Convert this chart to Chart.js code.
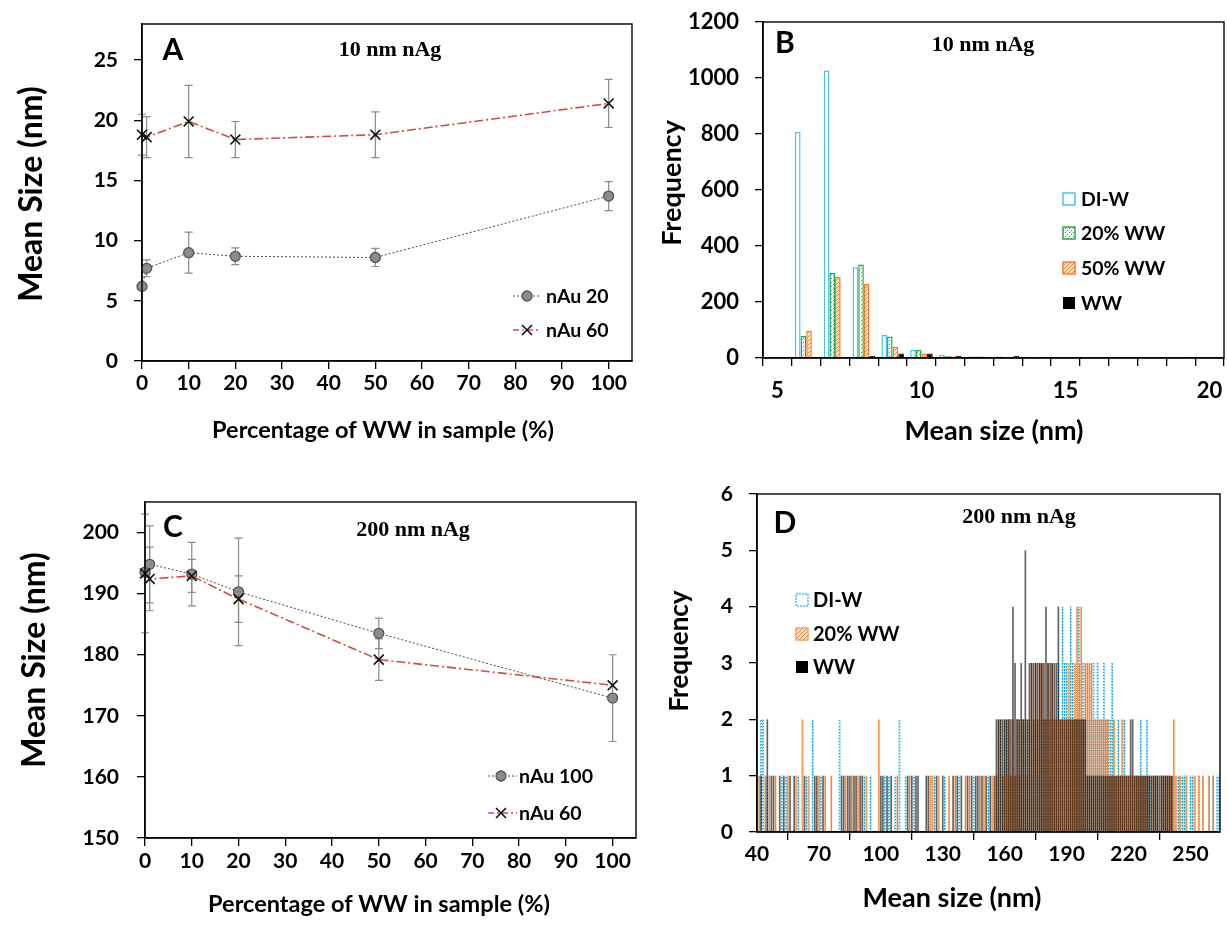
<!DOCTYPE html>
<html>
<head>
<meta charset="utf-8">
<script src="https://cdn.jsdelivr.net/npm/chart.js@4.4.1/dist/chart.umd.min.js"></script>
<style>
  html, body { margin: 0; padding: 0; background: #fff; width: 1227px; height: 926px; overflow: hidden; }
  canvas { position: absolute; }
</style>
</head>
<body>
<canvas id="cA" width="645" height="462" style="left:0px;top:0px"></canvas>
<canvas id="cB" width="582" height="462" style="left:645px;top:0px"></canvas>
<canvas id="cC" width="645" height="464" style="left:0px;top:462px"></canvas>
<canvas id="cD" width="582" height="464" style="left:645px;top:462px"></canvas>
<script>
// ---------- data: mean size vs. wastewater fraction ----------
const pctWW = [0, 1, 10, 20, 50, 100];
const pctTicks = [0, 10, 20, 30, 40, 50, 60, 70, 80, 90, 100];

// 10 nm nAg
const nAu20Size = [6.2, 7.7, 9.0, 8.7, 8.6, 13.7];
const nAu20Err  = [0, 0.7, 1.7, 0.7, 0.75, 1.2];
const nAu60Size10 = [18.8, 18.6, 19.9, 18.4, 18.8, 21.4];
const nAu60Err10  = [1.7, 1.7, 3.0, 1.5, 1.9, 2.0];
const sizeTicks10 = [0, 5, 10, 15, 20, 25];

// 200 nm nAg
const nAu100Size = [193.5, 194.8, 193.2, 190.3, 183.5, 172.9];
const nAu100Err  = [0, 6.3, 5.2, 8.8, 2.5, 7.1];
const nAu60Size200 = [193.3, 192.4, 192.9, 189.1, 179.2, 175.0];
const nAu60Err200  = [9.7, 5.2, 2.7, 3.8, 3.4, 0];
const sizeTicks200 = [150, 160, 170, 180, 190, 200];

// ---------- data: size distributions, 10 nm nAg (1 nm bins) ----------
const sizeBins10 = [5, 6, 7, 8, 9, 10, 11, 12, 13, 14, 15, 16, 17, 18, 19, 20];
const binLabels10 = [5, 10, 15, 20];
const freqDIW10  = [0, 808, 1027, 324, 82, 29, 12, 5, 6, 2, 1, 1, 0, 1, 1, 1];
const freq20WW10 = [0, 79, 304, 334, 77, 29, 7, 5, 1, 2, 1, 1, 0, 1, 1, 1];
const freq50WW10 = [0, 97, 290, 264, 40, 16, 6, 5, 1, 1, 1, 1, 0, 1, 1, 1];
const freqWW10   = [0, 0, 2, 8, 16, 16, 8, 2, 8, 1, 1, 1, 0, 1, 1, 1];
const freqTicks10 = [0, 200, 400, 600, 800, 1000, 1200];

// ---------- data: size distributions, 200 nm nAg (1 nm bins from 40 nm) ----------
const binStart200 = 40;
const binLabels200 = [40, 70, 100, 130, 160, 190, 220, 250];
const freqTicks200 = [0, 1, 2, 3, 4, 5, 6];
const freqDIW200 = [
  0,0,2,2,0,1,0,0,0,0,  0,0,1,0,1,0,0,0,0,0,  1,0,0,0,1,0,0,2,0,0,  0,1,0,0,0,0,0,0,0,0,
  2,0,0,0,0,0,1,0,0,0,  0,0,1,0,0,1,0,0,0,0,  0,0,1,0,1,0,0,1,0,2,  0,0,1,0,0,0,1,0,0,0,
  0,0,0,0,0,0,1,0,0,0,  0,1,0,0,0,0,0,0,1,0,  0,0,0,0,0,1,0,0,1,0,  0,0,1,0,0,0,1,1,2,1,
  1,2,1,1,2,1,1,2,1,2,  1,2,2,1,2,2,1,2,2,2,  2,2,1,2,2,2,3,2,4,3,  3,2,4,3,2,2,4,2,3,2,
  2,2,2,3,2,3,2,2,3,2,  2,2,3,2,1,2,1,2,2,1,  1,1,1,1,1,1,2,1,1,2,  1,1,0,1,1,0,1,1,1,0,
  1,0,1,0,1,1,1,1,1,0,  1,1,1,0,1,0,1,0,0,1,  0,1,0,1,1
];
const freq20WW200 = [
  0,1,0,0,1,0,1,0,0,1,  0,0,0,0,0,1,0,0,0,1,  0,0,2,0,0,1,0,0,0,0,  1,0,0,1,0,0,1,0,0,0,
  0,0,0,1,0,0,1,0,0,1,  0,0,0,1,0,0,0,0,0,2,  0,0,0,0,0,0,0,0,1,0,  0,0,0,0,1,0,0,0,0,0,
  0,0,0,0,1,1,0,0,1,0,  0,0,0,1,0,0,1,0,0,0,  0,1,0,1,0,0,0,0,1,0,  1,0,0,0,1,0,1,2,0,1,
  2,1,2,1,2,1,2,1,2,2,  2,1,2,3,2,3,2,3,3,2,  2,3,2,3,2,2,2,2,2,2,  2,3,2,2,3,4,3,4,2,3,
  3,3,3,2,2,2,2,2,2,2,  2,1,1,2,1,1,1,2,1,1,  1,1,1,1,1,1,1,1,1,1,  1,0,1,1,1,0,1,1,1,1,
  1,1,2,1,0,1,0,0,1,0,  0,0,1,0,1,0,1,0,0,1,  0,1,0,0,0
];
const freqWW200 = [
  0,0,1,0,0,2,0,1,1,0,  0,1,0,1,0,0,1,0,1,0,  0,0,0,1,0,0,0,0,1,1,  0,0,1,0,0,0,0,0,0,0,
  0,1,1,0,1,1,0,1,1,0,  1,1,0,0,0,0,0,0,0,0,  1,1,0,1,0,1,0,0,0,0,  0,0,0,1,0,1,0,1,1,0,
  0,0,1,1,0,0,0,1,0,0,  1,0,0,0,0,1,0,1,0,1,  0,0,1,0,1,0,1,1,0,1,  0,1,0,1,0,1,2,2,2,2,
  2,2,2,2,4,3,2,2,3,2,  5,2,3,3,3,3,3,3,3,3,  4,3,3,3,3,3,4,2,2,2,  2,2,2,2,2,2,2,2,2,2,
  1,1,1,1,1,1,1,1,1,1,  1,1,1,1,1,1,1,1,1,1,  1,2,2,1,1,1,1,1,1,1,  1,1,1,1,1,1,1,1,1,1,
  1,1,0,0,0,0,0,0,0,0,  0,0,0,0,0,0,0,0,0,0,  0,0,0,0,0
];

// ---------- styling helpers ----------
const SANS = 'Lato, "Open Sans", sans-serif';
const SERIF = '"Liberation Serif", "DejaVu Serif", serif';
const BLUE = '#4cc3ef', GREEN = '#1fae4b', ORANGE = '#ee7d31';

function pattern(w, h, paint) {
  const c = document.createElement('canvas');
  c.width = w; c.height = h;
  const g = c.getContext('2d');
  paint(g);
  return g.createPattern(c, 'repeat');
}
const greenDots = pattern(4, 4, g => {
  g.fillStyle = '#ffffff'; g.fillRect(0, 0, 4, 4);
  g.fillStyle = GREEN; g.fillRect(0, 0, 1, 1); g.fillRect(2, 2, 1, 1);
  g.fillStyle = '#a8e2b8'; g.fillRect(1, 3, 1, 1);
});
const orangeHatch = pattern(4, 4, g => {
  g.fillStyle = '#fde6d4'; g.fillRect(0, 0, 4, 4);
  g.fillStyle = ORANGE;
  for (let i = 0; i < 4; i++) g.fillRect(i, 3 - i, 1, 1);
});
const blueDots = pattern(2, 3, g => {
  g.fillStyle = '#bfe9fa'; g.fillRect(0, 0, 2, 3);
  g.fillStyle = '#1aa9e6'; g.fillRect(0, 0, 2, 1); g.fillRect(1, 1, 1, 1);
});
const orangeThin = pattern(2, 2, g => {
  g.fillStyle = 'rgba(238,125,49,0.95)'; g.fillRect(0, 0, 2, 2);
  g.fillStyle = 'rgba(250,190,140,0.95)'; g.fillRect(1, 1, 1, 1);
});

const tickFont = size => ({ family: SANS, weight: '700', size: size, lineHeight: 1 });
const plain = v => String(v);
// fixed axis band; tick labels never push the plot edges inward
const fixHeight = h => s => { s.height = h; s.paddingLeft = 0; s.paddingRight = 0; };

function valueAxis(min, max, ticks, axisWidth, pad, fontSize) {
  return {
    type: 'linear', min: min, max: max,
    afterBuildTicks: s => { s.ticks = ticks.map(v => ({ value: v })); },
    afterFit: s => { s.width = axisWidth; s.paddingTop = 0; s.paddingBottom = 0; },
    grid: { drawOnChartArea: false, drawTicks: true, tickLength: 8, color: '#000', lineWidth: 1.3 },
    border: { display: true, color: '#000', width: 1.5 },
    ticks: { color: '#000', font: tickFont(fontSize), padding: pad, callback: plain }
  };
}
function linearBottomAxis(min, max, ticks, axisHeight, pad, fontSize) {
  return {
    type: 'linear', min: min, max: max, offset: false,
    afterBuildTicks: s => { s.ticks = ticks.map(v => ({ value: v })); },
    afterFit: fixHeight(axisHeight),
    grid: { drawOnChartArea: false, drawTicks: true, tickLength: 8, color: '#000', lineWidth: 1.3 },
    border: { display: true, color: '#000', width: 1.5 },
    ticks: { color: '#000', font: tickFont(fontSize), padding: pad, maxRotation: 0, callback: plain }
  };
}

// ---------- plugin: frame, error bars, labels and legends ----------
const panelDecor = {
  id: 'panelDecor',
  beforeDatasetsDraw(chart) {
    const { ctx, scales: { x, y } } = chart;
    chart.data.datasets.forEach(ds => {
      if (!ds.errorBars) return;
      ctx.save();
      ctx.strokeStyle = '#8a8a8a';
      ctx.lineWidth = 1.2;
      ds.data.forEach((p, i) => {
        const e = ds.errorBars[i];
        if (!e) return;
        const px = x.getPixelForValue(p.x);
        const yt = y.getPixelForValue(p.y + e), yb = y.getPixelForValue(p.y - e);
        ctx.beginPath();
        ctx.moveTo(px, yt); ctx.lineTo(px, yb);
        ctx.moveTo(px - 4, yt); ctx.lineTo(px + 4, yt);
        ctx.moveTo(px - 4, yb); ctx.lineTo(px + 4, yb);
        ctx.stroke();
      });
      ctx.restore();
    });
  },
  afterDraw(chart, args, opts) {
    const { ctx, chartArea: a } = chart;
    const [ox, oy] = opts.origin;
    ctx.save();
    // plot frame
    ctx.strokeStyle = '#000';
    ctx.lineWidth = 1.4;
    ctx.strokeRect(a.left, a.top, a.right - a.left, a.bottom - a.top);
    // texts
    (opts.texts || []).forEach(t => {
      ctx.save();
      ctx.fillStyle = '#000';
      ctx.font = t.font;
      ctx.textAlign = t.align || 'center';
      ctx.textBaseline = 'middle';
      ctx.translate(t.x - ox, t.y - oy);
      if (t.rotate) ctx.rotate(-Math.PI / 2);
      ctx.fillText(t.text, 0, 0);
      ctx.restore();
    });
    // legend
    const lg = opts.legend;
    if (lg) {
      lg.items.forEach((it, i) => {
        const cy = lg.rows[i] - oy;
        const mx = lg.marker - ox;
        if (it.kind === 'line') {
          ctx.save();
          ctx.strokeStyle = it.lineColor;
          ctx.lineWidth = it.lineWidth;
          ctx.setLineDash(it.dash);
          ctx.beginPath();
          ctx.moveTo(lg.lineFrom - ox, cy); ctx.lineTo(lg.lineTo - ox, cy);
          ctx.stroke();
          ctx.setLineDash([]);
          if (it.point === 'circle') {
            ctx.fillStyle = '#8c8c8c'; ctx.strokeStyle = '#555'; ctx.lineWidth = 1.3;
            ctx.beginPath(); ctx.arc(mx, cy, 5, 0, Math.PI * 2); ctx.fill(); ctx.stroke();
          } else {
            ctx.strokeStyle = '#111'; ctx.lineWidth = 1.6;
            ctx.beginPath();
            ctx.moveTo(mx - 5, cy - 5); ctx.lineTo(mx + 5, cy + 5);
            ctx.moveTo(mx + 5, cy - 5); ctx.lineTo(mx - 5, cy + 5);
            ctx.stroke();
          }
          ctx.restore();
        } else {
          const s = lg.box;
          ctx.save();
          ctx.fillStyle = it.fill;
          ctx.fillRect(mx - s / 2, cy - s / 2, s, s);
          if (it.stroke) {
            ctx.strokeStyle = it.stroke; ctx.lineWidth = 1.5;
            if (it.dash) ctx.setLineDash(it.dash);
            ctx.strokeRect(mx - s / 2, cy - s / 2, s, s);
          }
          ctx.restore();
        }
        ctx.fillStyle = '#000';
        ctx.font = lg.font;
        ctx.textAlign = 'left';
        ctx.textBaseline = 'middle';
        ctx.fillText(it.label, lg.textX - ox, cy + 1);
      });
    }
    ctx.restore();
  }
};
Chart.register(panelDecor);

const pts = (xs, ys) => xs.map((v, i) => ({ x: v, y: ys[i] }));
const grayLine = { borderColor: '#4a4a4a', borderWidth: 1, borderDash: [2, 2] };
const redLine = { borderColor: '#c9504a', borderWidth: 1.6, borderDash: [9, 3, 2, 3] };
const circleMarks = { pointStyle: 'circle', pointRadius: 5, pointHoverRadius: 5, pointBackgroundColor: '#8c8c8c', pointBorderColor: '#555', pointBorderWidth: 1.3 };
const crossMarks = { pointStyle: 'crossRot', pointRadius: 7, pointHoverRadius: 7, pointBorderColor: '#111', pointBackgroundColor: '#111', pointBorderWidth: 1.6 };
const base = { responsive: false, animation: false, events: [] };

// ---------- A: 10 nm nAg, mean size ----------
new Chart(document.getElementById('cA'), {
  type: 'line',
  data: {
    datasets: [
      Object.assign({ label: 'nAu 60', data: pts(pctWW, nAu60Size10), errorBars: nAu60Err10, clip: false, tension: 0 }, redLine, crossMarks),
      Object.assign({ label: 'nAu 20', data: pts(pctWW, nAu20Size), errorBars: nAu20Err, clip: false, tension: 0 }, grayLine, circleMarks)
    ]
  },
  options: Object.assign({}, base, {
    layout: { padding: { top: 24, right: 13, left: 0, bottom: 0 } },
    scales: {
      x: linearBottomAxis(0, 105, pctTicks, 101, 4, 21),
      y: valueAxis(0, 28, sizeTicks10, 142, 16, 21)
    },
    plugins: {
      legend: { display: false }, tooltip: { enabled: false },
      panelDecor: {
        origin: [0, 0],
        texts: [
          { text: 'A', x: 173, y: 50, font: '700 30px ' + SANS },
          { text: '10 nm nAg', x: 390, y: 50, font: '700 22px ' + SERIF },
          { text: 'Mean Size (nm)', x: 32, y: 194, font: '700 32px ' + SANS, rotate: true },
          { text: 'Percentage of WW in sample (%)', x: 383, y: 430, font: '700 23.5px ' + SANS }
        ],
        legend: {
          rows: [296, 330], marker: 527, lineFrom: 513, lineTo: 541, textX: 546, font: '700 19.5px ' + SANS,
          items: [
            { label: 'nAu 20', kind: 'line', point: 'circle', lineColor: '#4a4a4a', lineWidth: 1, dash: [2, 2] },
            { label: 'nAu 60', kind: 'line', point: 'cross', lineColor: '#c9504a', lineWidth: 1.6, dash: [6, 3, 2, 3] }
          ]
        }
      }
    }
  })
});

// ---------- B: 10 nm nAg, size distribution ----------
new Chart(document.getElementById('cB'), {
  type: 'bar',
  data: {
    labels: sizeBins10,
    datasets: [
      { label: 'DI-W', data: freqDIW10, backgroundColor: '#ffffff', borderColor: BLUE, borderWidth: 1.5 },
      { label: '20% WW', data: freq20WW10, backgroundColor: greenDots, borderColor: GREEN, borderWidth: 1.5 },
      { label: '50% WW', data: freq50WW10, backgroundColor: orangeHatch, borderColor: ORANGE, borderWidth: 1.5 },
      { label: 'WW', data: freqWW10, backgroundColor: '#000000', borderColor: '#000000', borderWidth: 1 }
    ]
  },
  options: Object.assign({}, base, {
    layout: { padding: { top: 22, right: 3, left: 0, bottom: 0 } },
    datasets: { bar: { categoryPercentage: 0.78, barPercentage: 1.0 } },
    scales: {
      x: {
        type: 'category', offset: true,
        afterFit: fixHeight(104),
        grid: { offset: true, drawOnChartArea: false, drawTicks: true, tickLength: 8, color: '#000', lineWidth: 1.3 },
        border: { display: true, color: '#000', width: 1.5 },
        ticks: {
          color: '#000', font: tickFont(22), padding: 14, autoSkip: false, maxRotation: 0,
          callback: (v, i) => (binLabels10.includes(sizeBins10[i]) ? String(sizeBins10[i]) : '')
        }
      },
      y: valueAxis(0, 1200, freqTicks10, 118, 16, 22)
    },
    plugins: {
      legend: { display: false }, tooltip: { enabled: false },
      panelDecor: {
        origin: [645, 0],
        texts: [
          { text: 'B', x: 785, y: 43, font: '700 30px ' + SANS },
          { text: '10 nm nAg', x: 983, y: 45, font: '700 22px ' + SERIF },
          { text: 'Frequency', x: 672, y: 183, font: '700 27px ' + SANS, rotate: true },
          { text: 'Mean size (nm)', x: 994, y: 431, font: '700 27px ' + SANS }
        ],
        legend: {
          rows: [199, 233, 268, 303], marker: 1069, box: 12, textX: 1081, font: '700 19.5px ' + SANS,
          items: [
            { label: 'DI-W', kind: 'box', fill: '#ffffff', stroke: BLUE },
            { label: '20% WW', kind: 'box', fill: greenDots, stroke: GREEN },
            { label: '50% WW', kind: 'box', fill: orangeHatch, stroke: ORANGE },
            { label: 'WW', kind: 'box', fill: '#000000' }
          ]
        }
      }
    }
  })
});

// ---------- C: 200 nm nAg, mean size ----------
new Chart(document.getElementById('cC'), {
  type: 'line',
  data: {
    datasets: [
      Object.assign({ label: 'nAu 60', data: pts(pctWW, nAu60Size200), errorBars: nAu60Err200, clip: false, tension: 0 }, redLine, crossMarks),
      Object.assign({ label: 'nAu 100', data: pts(pctWW, nAu100Size), errorBars: nAu100Err, clip: false, tension: 0 }, grayLine, circleMarks)
    ]
  },
  options: Object.assign({}, base, {
    layout: { padding: { top: 40, right: 9, left: 0, bottom: 0 } },
    scales: {
      x: linearBottomAxis(0, 105, pctTicks, 88, 5, 21),
      y: valueAxis(150, 205, sizeTicks200, 145, 18, 21)
    },
    plugins: {
      legend: { display: false }, tooltip: { enabled: false },
      panelDecor: {
        origin: [0, 462],
        texts: [
          { text: 'C', x: 173, y: 527, font: '700 30px ' + SANS },
          { text: '200 nm nAg', x: 413, y: 530, font: '700 22px ' + SERIF },
          { text: 'Mean Size (nm)', x: 35, y: 660, font: '700 32px ' + SANS, rotate: true },
          { text: 'Percentage of WW in sample (%)', x: 379, y: 904, font: '700 23.5px ' + SANS }
        ],
        legend: {
          rows: [776, 813], marker: 501, lineFrom: 488, lineTo: 517, textX: 519, font: '700 19.5px ' + SANS,
          items: [
            { label: 'nAu 100', kind: 'line', point: 'circle', lineColor: '#4a4a4a', lineWidth: 1, dash: [2, 2] },
            { label: 'nAu 60', kind: 'line', point: 'cross', lineColor: '#c9504a', lineWidth: 1.6, dash: [6, 3, 2, 3] }
          ]
        }
      }
    }
  })
});

// ---------- D: 200 nm nAg, size distribution ----------
const binPts = counts => counts.map((c, i) => ({ x: binStart200 + i, y: c }));
new Chart(document.getElementById('cD'), {
  type: 'bar',
  data: {
    datasets: [
      { label: 'WW', data: binPts(freqWW200), backgroundColor: 'rgba(0,0,0,0.62)', borderWidth: 0, order: 0 },
      { label: '20% WW', data: binPts(freq20WW200), backgroundColor: orangeThin, borderWidth: 0, order: 1 },
      { label: 'DI-W', data: binPts(freqDIW200), backgroundColor: blueDots, borderWidth: 0, order: 2 }
    ]
  },
  options: Object.assign({}, base, {
    layout: { padding: { top: 32, right: 7, left: 0, bottom: 0 } },
    datasets: { bar: { grouped: false, categoryPercentage: 1.0, barPercentage: 0.8 } },
    scales: {
      x: linearBottomAxis(40, 264.3, binLabels200, 94, 4, 21),
      y: valueAxis(0, 6, freqTicks200, 112, 16, 21)
    },
    plugins: {
      legend: { display: false }, tooltip: { enabled: false },
      panelDecor: {
        origin: [645, 462],
        texts: [
          { text: 'D', x: 785, y: 523, font: '700 30px ' + SANS },
          { text: '200 nm nAg', x: 1019, y: 517, font: '700 22px ' + SERIF },
          { text: 'Frequency', x: 680, y: 651, font: '700 26px ' + SANS, rotate: true },
          { text: 'Mean size (nm)', x: 952, y: 898, font: '700 27px ' + SANS }
        ],
        legend: {
          rows: [600, 634, 667], marker: 802, box: 12, textX: 813, font: '700 20px ' + SANS,
          items: [
            { label: 'DI-W', kind: 'box', fill: '#ffffff', stroke: BLUE, dash: [2, 1] },
            { label: '20% WW', kind: 'box', fill: orangeHatch, stroke: '#f5a46a' },
            { label: 'WW', kind: 'box', fill: '#000000' }
          ]
        }
      }
    }
  })
});
</script>
</body>
</html>
